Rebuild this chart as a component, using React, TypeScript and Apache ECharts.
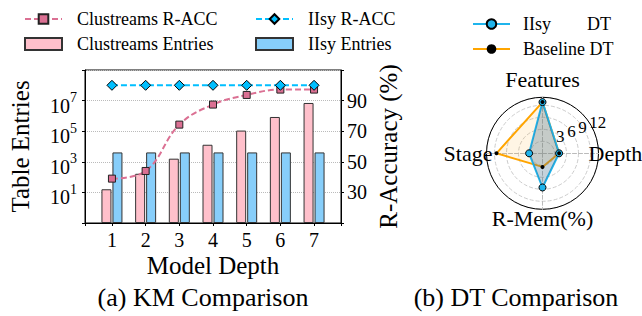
import React, { useEffect, useRef } from 'react';
import * as echarts from 'echarts';

// ---- data (left: KM comparison) ----
const depths = [1, 2, 3, 4, 5, 6, 7];
const clustreamsEntries = [16, 165, 1600, 13000, 110000, 850000, 7000000];
const iisyEntries = [4096, 4096, 4096, 4096, 4096, 4096, 4096];
const clustreamsAcc = [39, 44, 74.3, 87.4, 93.7, 97.2, 97.2];
const iisyAcc = [100, 100, 100, 100, 100, 100, 100];
const entryTickExponents = [1, 3, 5, 7];
const accTicks = [30, 50, 70, 90];

// ---- data (right: DT comparison) ----
const radarIndicators = ['Features', 'Stage', 'R-Mem(%)', 'Depth'];
const radarMax = 14;
const iisyDT = [12.8, 3.35, 8.55, 4.15];
const baselineDT = [12.8, 11.5, 3.4, 4.15];
const radiusTicks = [3, 6, 9, 12];

const SERIF = "'Liberation Serif', 'Times New Roman', serif";
const PINK = '#ffc0cb';
const SKY = '#87cefa';
const VIOLET = '#db7093';
const DEEPSKY = '#00bfff';
const IISY_DT = '#1fb4ec';
const ORANGE = '#ffa500';

export default function App() {
  const ref = useRef<HTMLDivElement>(null);

  useEffect(() => {
    document.body.style.margin = '0';
    if (!ref.current) return;
    const chart = echarts.init(ref.current, undefined, { renderer: 'svg' });

    const nameStyle = { fontSize: 25, color: '#000', fontFamily: SERIF };
    const legendText = { fontSize: 18, color: '#000', fontFamily: SERIF };

    const option: any = {
      animation: false,
      textStyle: { fontFamily: SERIF },
      legend: [
        {
          data: [{ name: 'Clustreams R-ACC' }, { name: 'Clustreams Entries', icon: 'rect' }],
          orient: 'vertical', left: 24, top: 10, itemGap: 7, padding: 0,
          itemWidth: 37, itemHeight: 12,
          textStyle: { ...legendText, padding: [0, 0, 0, 10] },
        },
        {
          data: [{ name: 'IIsy R-ACC' }, { name: 'IIsy Entries', icon: 'rect' }],
          orient: 'vertical', left: 255, top: 10, itemGap: 7, padding: 0,
          itemWidth: 37, itemHeight: 12,
          textStyle: { ...legendText, padding: [0, 0, 0, 10] },
        },
        {
          data: ['IIsy DT', 'Baseline DT'],
          orient: 'vertical', left: 472, top: 15, itemGap: 7, padding: 0,
          itemWidth: 37, itemHeight: 12,
          formatter: (n: string) => (n === 'IIsy DT' ? '{a|IIsy}{b|DT}' : n),
          textStyle: {
            ...legendText, padding: [0, 0, 0, 8],
            rich: {
              a: { fontSize: 18, fontFamily: SERIF, color: '#000', width: 64 },
              b: { fontSize: 18, fontFamily: SERIF, color: '#000' },
            },
          },
        },
      ],
      grid: {
        left: 85, top: 70, width: 256, height: 153,
        show: true, borderColor: '#000', borderWidth: 1,
      },
      xAxis: [{
        type: 'value', min: 0.2, max: 7.8, splitNumber: 7,
        name: 'Model Depth', nameLocation: 'middle', nameGap: 30, nameTextStyle: nameStyle,
        axisLine: { show: true, lineStyle: { color: '#000' } },
        axisTick: { show: true, length: 3, lineStyle: { color: '#000' } },
        axisLabel: {
          fontSize: 20, color: '#000', fontFamily: SERIF, margin: 7,
          formatter: (v: number) => (depths.includes(v) ? String(v) : ''),
        },
        splitLine: { show: false },
      }],
      yAxis: [
        {
          type: 'log', logBase: 10, min: 0.1, max: 1e9, interval: 2, startValue: 0.1,
          position: 'left',
          name: 'Table Entries', nameLocation: 'middle', nameGap: 52, nameTextStyle: nameStyle,
          axisLine: { show: true, lineStyle: { color: '#000' } },
          axisTick: { show: true, length: 3, lineStyle: { color: '#000' } },
          axisLabel: {
            margin: 8,
            formatter: (v: number) => {
              const e = Math.round(Math.log10(v));
              return entryTickExponents.includes(e) ? `{b|10}{s|${e}}` : '';
            },
            rich: {
              b: { fontSize: 20, fontFamily: SERIF, color: '#000', lineHeight: 20, padding: [10, 0, 0, 0] },
              s: { fontSize: 14, fontFamily: SERIF, color: '#000', lineHeight: 14, verticalAlign: 'top' },
            },
          },
          splitLine: { show: true, lineStyle: { color: '#bbb', type: 'dotted', width: 1 } },
        },
        {
          type: 'value', min: 10, max: 110, interval: 20, position: 'right',
          name: 'R-Accuracy (%)', nameLocation: 'middle', nameGap: 35, nameTextStyle: nameStyle,
          axisLine: { show: true, lineStyle: { color: '#000' } },
          axisTick: { show: true, length: 3, lineStyle: { color: '#000' } },
          axisLabel: {
            fontSize: 20, color: '#000', fontFamily: SERIF, margin: 6,
            formatter: (v: number) => (accTicks.includes(v) ? String(v) : ''),
          },
          splitLine: { show: false },
        },
      ],
      radar: {
        center: [542.5, 153.3], radius: 56, startAngle: 90, shape: 'circle',
        nameGap: -10,
        indicator: radarIndicators.map((n) => ({ name: n, min: 0, max: radarMax })),
        axisName: {
          color: '#000', fontSize: 22, fontFamily: SERIF,
          formatter: (n: string) => {
            const k = n === 'Features' ? 'f' : n === 'Stage' ? 's' : n === 'Depth' ? 'd' : 'm';
            return `{${k}|${n}}`;
          },
          rich: {
            f: { fontSize: 22, fontFamily: SERIF, color: '#000', padding: [0, 0, 17, 0] },
            s: { fontSize: 22, fontFamily: SERIF, color: '#000', padding: [0, 4, 0, 0] },
            d: { fontSize: 22, fontFamily: SERIF, color: '#000' },
            m: { fontSize: 22, fontFamily: SERIF, color: '#000', padding: [8, 0, 0, 0] },
          },
        },
        splitLine: { show: false },
        splitArea: { show: false },
        axisLine: { show: true, lineStyle: { color: '#bbb', type: 'dashed', width: 1 } },
        axisTick: { show: false },
        axisLabel: { show: false },
      },
      polar: { center: [542.5, 153.3], radius: 56 },
      angleAxis: {
        type: 'value', min: 0, max: 360, startAngle: 22.5,
        axisLine: { show: true, lineStyle: { color: '#000', width: 1 } },
        axisTick: { show: false }, axisLabel: { show: false }, splitLine: { show: false },
      },
      radiusAxis: {
        type: 'value', min: 0, max: radarMax, interval: 3,
        axisLine: { show: false }, axisTick: { show: false },
        splitLine: { show: true, lineStyle: { color: '#ccc', type: 'dashed', width: 1 } },
        axisLabel: {
          fontSize: 17, color: '#000', fontFamily: SERIF, margin: 4,
          align: 'left', verticalAlign: 'bottom', padding: [0, 0, 0, 4],
          formatter: (v: number) => (radiusTicks.includes(v) ? String(v) : ''),
        },
      },
      series: [
        {
          name: 'Clustreams Entries', type: 'bar', xAxisIndex: 0, yAxisIndex: 0,
          data: depths.map((d, i) => [d, clustreamsEntries[i]]),
          barWidth: 10, barGap: '10%',
          itemStyle: { color: PINK, borderColor: '#333', borderWidth: 1 },
        },
        {
          name: 'IIsy Entries', type: 'bar', xAxisIndex: 0, yAxisIndex: 0,
          data: depths.map((d, i) => [d, iisyEntries[i]]),
          barWidth: 10, barGap: '10%',
          itemStyle: { color: SKY, borderColor: '#333', borderWidth: 1 },
        },
        {
          name: 'Clustreams R-ACC', type: 'line', xAxisIndex: 0, yAxisIndex: 1,
          data: depths.map((d, i) => [d, clustreamsAcc[i]]),
          smooth: 0.4, symbol: 'rect', symbolSize: 7,
          lineStyle: { color: VIOLET, width: 2, type: [6, 3] },
          itemStyle: { color: VIOLET, borderColor: '#222', borderWidth: 1 },
          z: 5,
        },
        {
          name: 'IIsy R-ACC', type: 'line', xAxisIndex: 0, yAxisIndex: 1,
          data: depths.map((d, i) => [d, iisyAcc[i]]),
          symbol: 'diamond', symbolSize: 10,
          lineStyle: { color: DEEPSKY, width: 2, type: [6, 3] },
          itemStyle: { color: DEEPSKY, borderColor: '#000', borderWidth: 1 },
          z: 5,
        },
        // legend-only entries for the radar chart
        {
          name: 'IIsy DT', type: 'line', xAxisIndex: 0, yAxisIndex: 1, data: [],
          symbol: 'circle', symbolSize: 6,
          lineStyle: { color: IISY_DT, width: 2 },
          itemStyle: { color: IISY_DT, borderColor: '#000', borderWidth: 1 },
        },
        {
          name: 'Baseline DT', type: 'line', xAxisIndex: 0, yAxisIndex: 1, data: [],
          symbol: 'circle', symbolSize: 4,
          lineStyle: { color: ORANGE, width: 2 },
          itemStyle: { color: '#000' },
        },
        {
          type: 'radar', radarIndex: 0, symbol: 'none',
          data: [{
            name: 'Baseline DT', value: baselineDT,
            lineStyle: { color: ORANGE, width: 2 },
            areaStyle: { color: 'rgba(255,165,0,0.15)' },
          }],
        },
        {
          type: 'radar', radarIndex: 0, symbol: 'circle',
          data: [{
            name: 'IIsy DT', value: iisyDT, symbolSize: 7,
            lineStyle: { color: IISY_DT, width: 2 },
            itemStyle: { color: IISY_DT, borderColor: '#000', borderWidth: 1 },
            areaStyle: { color: 'rgba(70,110,140,0.45)' },
          }],
        },
        {
          type: 'radar', radarIndex: 0, symbol: 'circle',
          data: [{
            name: 'Baseline DT', value: baselineDT, symbolSize: 4,
            lineStyle: { width: 0, opacity: 0 },
            itemStyle: { color: '#000' },
          }],
        },
      ],
      graphic: [
        {
          type: 'text', x: 203, y: 297,
          style: { text: '(a) KM Comparison', fontSize: 26, fontFamily: SERIF, fill: '#000', align: 'center', verticalAlign: 'middle' },
        },
        {
          type: 'text', x: 516, y: 297,
          style: { text: '(b) DT Comparison', fontSize: 26, fontFamily: SERIF, fill: '#000', align: 'center', verticalAlign: 'middle' },
        },
      ],
    };

    chart.setOption(option);
    return () => chart.dispose();
  }, []);

  return <div ref={ref} style={{ width: 642, height: 316 }} />;
}
